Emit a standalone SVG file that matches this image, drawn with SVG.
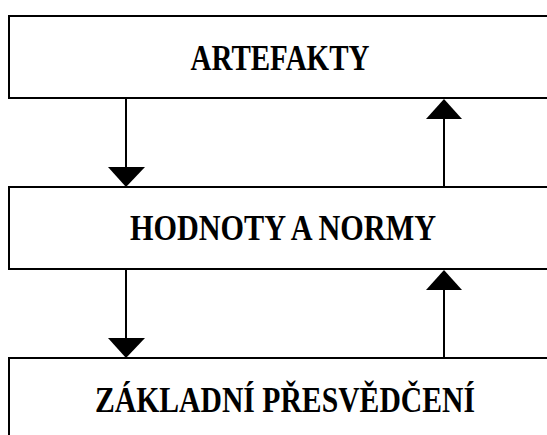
<svg xmlns="http://www.w3.org/2000/svg" width="547" height="435" viewBox="0 0 547 435">
<style>
.box{fill:#fff;stroke:#000;stroke-width:2}
.lbl{font-family:"Liberation Serif","Times New Roman",serif;font-weight:bold;font-size:35px;fill:#000;text-anchor:middle}
.ln{stroke:#000;stroke-width:2;fill:none}
.hd{fill:#000}
</style>
<rect width="547" height="435" fill="#fff"/>
<g id="artefakty">
<rect class="box" x="9" y="16" width="560" height="82"/>
<text class="lbl" x="280" y="70" textLength="179" lengthAdjust="spacingAndGlyphs">ARTEFAKTY</text>
</g>
<g id="hodnoty">
<rect class="box" x="9" y="187" width="560" height="82"/>
<text class="lbl" x="283" y="240" textLength="306" lengthAdjust="spacingAndGlyphs">HODNOTY A NORMY</text>
</g>
<g id="zakladni">
<rect class="box" x="9" y="358" width="560" height="90"/>
<text class="lbl" x="285" y="412" textLength="380" lengthAdjust="spacingAndGlyphs">ZÁKLADNÍ PŘESVĚDČENÍ</text>
</g>
<g id="connectors">
<line class="ln" x1="126" y1="98" x2="126" y2="168"/>
<polygon class="hd" points="108,167 145,167 126,187"/>
<line class="ln" x1="444" y1="187" x2="444" y2="118"/>
<polygon class="hd" points="426,119 462,119 444,99"/>
<line class="ln" x1="126" y1="269" x2="126" y2="339"/>
<polygon class="hd" points="108,338 145,338 126,358"/>
<line class="ln" x1="444" y1="358" x2="444" y2="289"/>
<polygon class="hd" points="426,290 462,290 444,270"/>
</g>
</svg>
